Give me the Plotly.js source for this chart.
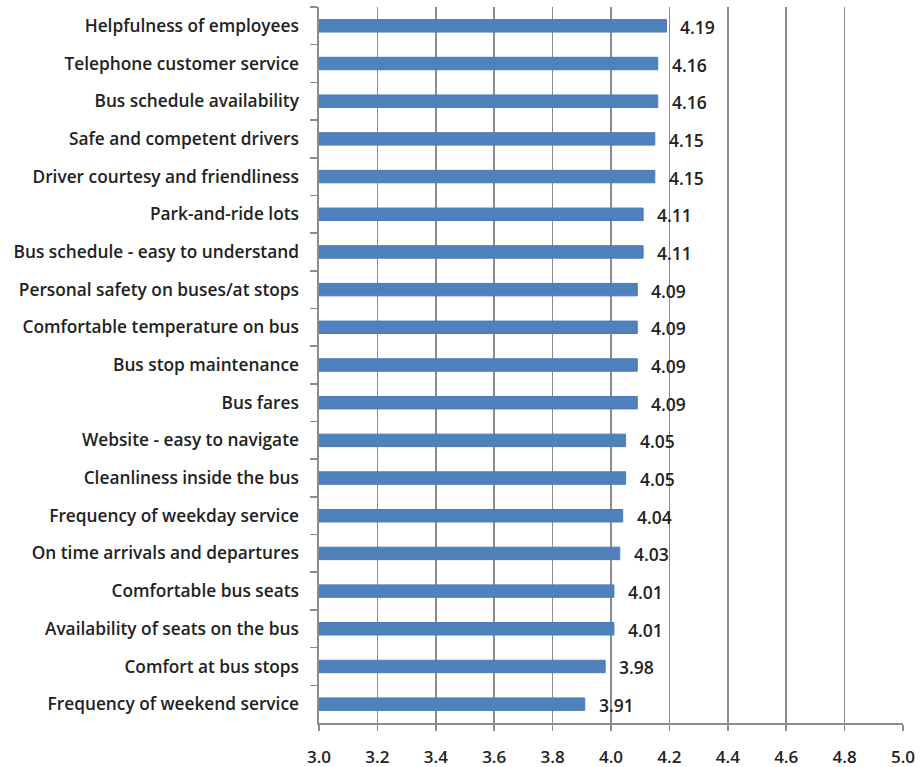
<!DOCTYPE html>
<html>
<head>
<meta charset="utf-8">
<script src="https://cdn.plot.ly/plotly-3.0.1.min.js"></script>
<style>html,body{margin:0;padding:0;background:#fff;}#chart{width:922px;height:767px;}</style>
</head>
<body>
<div id="chart"></div>
<script>
const categories = [
  "Helpfulness of employees",
  "Telephone customer service",
  "Bus schedule availability",
  "Safe and competent drivers",
  "Driver courtesy and friendliness",
  "Park-and-ride lots",
  "Bus schedule - easy to understand",
  "Personal safety on buses/at stops",
  "Comfortable temperature on bus",
  "Bus stop maintenance",
  "Bus fares",
  "Website - easy to navigate",
  "Cleanliness inside the bus",
  "Frequency of weekday service",
  "On time arrivals and departures",
  "Comfortable bus seats",
  "Availability of seats on the bus",
  "Comfort at bus stops",
  "Frequency of weekend service"
];
const scores = [4.19, 4.16, 4.16, 4.15, 4.15, 4.11, 4.11, 4.09, 4.09, 4.09, 4.09, 4.05, 4.05, 4.04, 4.03, 4.01, 4.01, 3.98, 3.91];
const xTicks = [3.0, 3.2, 3.4, 3.6, 3.8, 4.0, 4.2, 4.4, 4.6, 4.8, 5.0];

const FAM = "Open Sans, sans-serif";
const TXT = "#222222";
const GRID = "#8c8c8c";

const trace = {
  type: "bar",
  orientation: "h",
  y: categories,
  x: scores,
  marker: {color: "#4F81BD", line: {color: "#4A7AB5", width: 1}},
  width: 0.33,
  hoverinfo: "x+y"
};

const annotations = categories.map((c, i) => ({
  x: scores[i], y: c, xref: "x", yref: "y",
  text: scores[i].toFixed(2), showarrow: false,
  xanchor: "left", yanchor: "middle", xshift: 12, yshift: -1,
  font: {family: FAM, size: 17.5, color: TXT, weight: 600}
}));

const layout = {
  width: 922, height: 767,
  margin: {l: 319, r: 19, t: 7, b: 44},
  paper_bgcolor: "#fff", plot_bgcolor: "#fff",
  showlegend: false,
  font: {family: FAM, size: 17, color: TXT},
  xaxis: {
    range: [3, 5], tickvals: xTicks, ticktext: xTicks.map(v => v.toFixed(1)),
    showgrid: true, gridcolor: GRID, gridwidth: 1.6,
    showline: true, linecolor: GRID, linewidth: 1.6,
    ticks: "outside", ticklen: 6, tickcolor: GRID, tickwidth: 1.6,
    zeroline: false, fixedrange: true, ticklabelstandoff: 12,
    tickfont: {family: FAM, size: 17, color: TXT, weight: 600}
  },
  yaxis: {
    type: "category", autorange: "reversed",
    showline: true, linecolor: GRID, linewidth: 1.6,
    ticks: "outside", tickson: "boundaries", ticklen: 7, tickcolor: GRID, tickwidth: 1.6,
    showgrid: false, fixedrange: true, ticklabelstandoff: 15,
    tickfont: {family: FAM, size: 17.3, color: TXT, weight: 600}
  },
  annotations: annotations
};

Plotly.newPlot("chart", [trace], layout, {displayModeBar: false, staticPlot: true});
</script>
</body>
</html>
